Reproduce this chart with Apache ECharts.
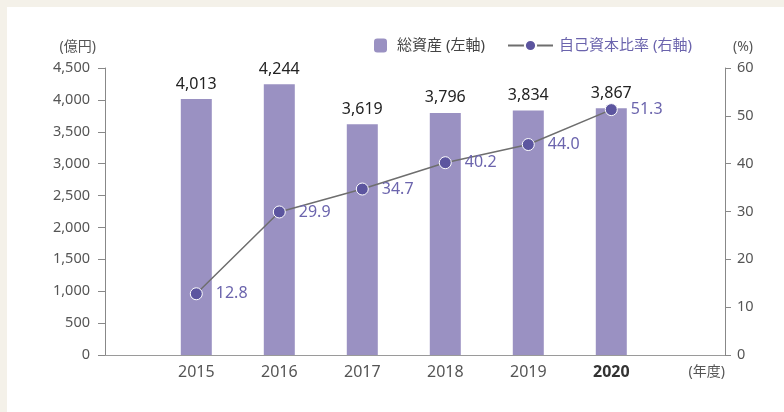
<!DOCTYPE html>
<html><head><meta charset="utf-8">
<script src="https://cdn.jsdelivr.net/npm/echarts@6/dist/echarts.min.js"></script>
<style>
html,body{margin:0;padding:0;background:#f4f1e9;}
#bg{position:absolute;left:7px;top:7px;width:777px;height:405px;background:#fff;}
#c{position:absolute;left:0;top:0;width:784px;height:412px;}
</style></head><body>
<div id="bg"></div><div id="c"></div>
<script>
const years = [2015, 2016, 2017, 2018, 2019, 2020];
const totalAssets = [4013, 4244, 3619, 3796, 3834, 3867];
const equityRatio = [12.8, 29.9, 34.7, 40.2, 44.0, 51.3];
const barName = '総資産 (左軸)';
const lineName = '自己資本比率 (右軸)';
const leftUnit = '(億円)';
const rightUnit = '(%)';
const xUnit = '(年度)';

const FONT = "'Noto Sans', 'Noto Sans CJK JP', sans-serif";
const chart = echarts.init(document.getElementById('c'));
chart.setOption({
  backgroundColor: 'transparent',
  textStyle: { fontFamily: FONT },
  animation: false,
  grid: { left: 105, right: 59, top: 68, bottom: 57 },
  legend: [
    { left: 369, top: 33, itemWidth: 13, itemHeight: 14, data: [barName],
      textStyle: { fontFamily: FONT, fontSize: 15, color: '#444', padding: [0,0,0,5] } },
    { left: 502, top: 33, itemWidth: 45, itemHeight: 14, data: [lineName],
      textStyle: { fontFamily: FONT, fontSize: 15, color: '#6b64ad', padding: [0,0,0,1] } }
  ],
  xAxis: {
    type: 'value', min: 2013.9, max: 2021.37,
    splitLine: { show: false },
    axisTick: { show: false },
    axisLine: { show: true, lineStyle: { color: '#9a9a9a', width: 1 } },
    axisLabel: {
      showMinLabel: false, showMaxLabel: false,
      margin: 9, fontSize: 16, color: '#555', fontFamily: FONT,
      formatter: v => years.indexOf(v) < 0 ? '' : (v === 2020 ? '{b|' + v + '}' : String(v)),
      rich: { b: { fontWeight: 'bold', fontSize: 16, color: '#333', fontFamily: FONT } }
    },
    name: xUnit, nameLocation: 'end', nameGap: 0,
    nameTextStyle: { align: 'right', verticalAlign: 'top', padding: [10, 0, 0, 0], fontSize: 14, color: '#555', fontFamily: FONT }
  },
  yAxis: [
    { type: 'value', min: 0, max: 4500, interval: 500,
      splitLine: { show: false },
      axisLine: { show: true, lineStyle: { color: '#888' } },
      axisTick: { show: true, inside: false, length: 7, lineStyle: { color: '#888' } },
      axisLabel: { margin: 15, fontSize: 14.5, color: '#555', fontFamily: FONT,
        formatter: v => v.toLocaleString('en-US') },
      name: leftUnit, nameLocation: 'end', nameGap: 14,
      nameTextStyle: { align: 'right', padding: [0, 9, 0, 0], fontSize: 14, color: '#555', fontFamily: FONT }
    },
    { type: 'value', min: 0, max: 60, interval: 10, position: 'right',
      splitLine: { show: false },
      axisLine: { show: true, lineStyle: { color: '#888' } },
      axisTick: { show: true, inside: false, length: 6, lineStyle: { color: '#888' } },
      axisLabel: { margin: 12, fontSize: 14.5, color: '#555', fontFamily: FONT },
      name: rightUnit, nameLocation: 'end', nameGap: 14,
      nameTextStyle: { align: 'left', padding: [0, 0, 0, 8], fontSize: 14, color: '#555', fontFamily: FONT }
    }
  ],
  series: [
    { name: barName, type: 'bar', yAxisIndex: 0, barWidth: 31,
      itemStyle: { color: '#9a91c2' },
      data: years.map((y, i) => [y, totalAssets[i]]),
      label: { show: true, position: 'top', distance: 7, fontSize: 16, color: '#222', fontFamily: FONT,
        formatter: p => p.value[1].toLocaleString('en-US') }
    },
    { name: lineName, type: 'line', yAxisIndex: 1,
      symbol: 'circle', symbolSize: 12,
      lineStyle: { color: '#6e6e6e', width: 1.5 },
      itemStyle: { color: '#5c559f', borderColor: '#fff', borderWidth: 1 },
      data: years.map((y, i) => [y, equityRatio[i]]),
      label: { show: true, position: 'right', distance: 13, fontSize: 16, color: '#6b64ad', fontFamily: FONT,
        formatter: p => p.value[1].toFixed(1) },
      z: 3
    }
  ]
});
</script></body></html>
